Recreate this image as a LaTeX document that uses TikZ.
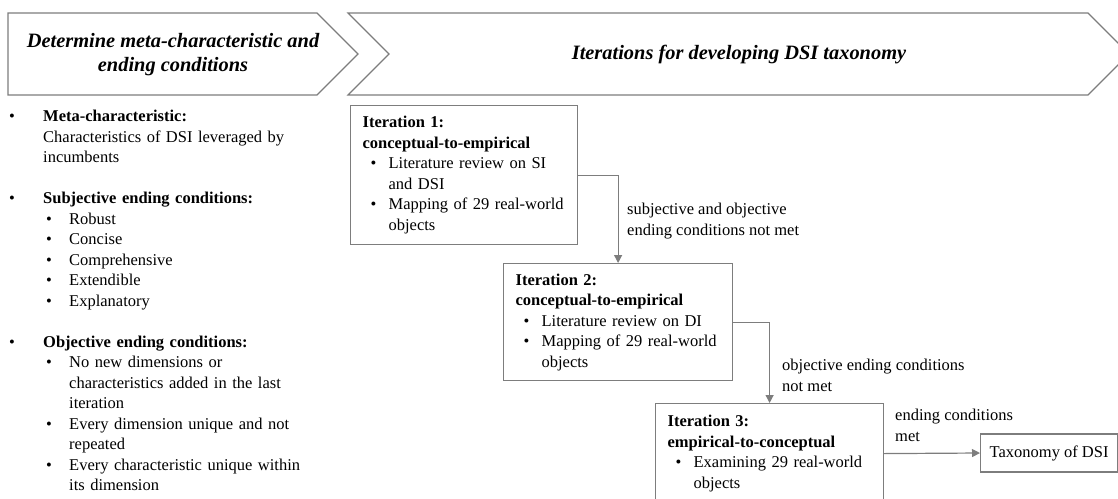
\documentclass[tikz,border=0pt]{standalone}
\usepackage{fontspec}
\setmainfont{Liberation Serif}
\usetikzlibrary{arrows.meta,positioning}
\definecolor{linegray}{RGB}{125,125,125}
\newcommand{\bodyfont}{\fontsize{16.5}{20.5}\selectfont}
\newcommand{\headfont}{\fontsize{20.4}{24}\selectfont\bfseries\itshape}
% bullet item: #1 bullet offset, #2 text offset, #3 text
\newcommand{\itm}[3]{\par\noindent\hangindent=#2\hangafter=1\makebox[#2][l]{\hspace*{#1}\textbullet}#3\par}
\tikzset{
  chevron/.style  = {draw=linegray, line width=1.2pt, fill=white},
  headtext/.style = {font=\headfont, align=center, inner sep=0pt},
  iterbox/.style  = {draw=linegray, line width=1.2pt, font=\bodyfont, anchor=north west,
                     inner xsep=12pt, inner ysep=0pt},
  note/.style     = {font=\bodyfont, align=left, inner sep=0pt, anchor=north west},
  flow/.style     = {draw=linegray, line width=1.2pt, -{Triangle[length=8pt,width=8pt]}}
}

\begin{document}
\begin{tikzpicture}[x=1pt,y=-1pt]
\useasboundingbox (0,0) rectangle (1118,498);
\clip (0,0) rectangle (1118,498);
% phase chevrons
\draw[chevron] (8,13) -- (317,13) -- (358,54) -- (317,95) -- (8,95) -- cycle;
\draw[chevron] (348,13) -- (1088,13) -- (1129,54) -- (1088,95) -- (348,95) -- (389,54) -- cycle;
\node[headtext] (h1) at (173,55) {Determine meta-characteristic and\\ending conditions};
\node[headtext] (h2) at (739,55) {Iterations for developing DSI taxonomy};

% meta-characteristic and ending conditions
\node[note, text width=330pt] (conds) at (0,101) {%
  \itm{9pt}{43pt}{\textbf{Meta-characteristic:}\newline Characteristics of DSI leveraged by\newline incumbents}
  \vspace{20.5pt}
  \itm{9pt}{43pt}{\textbf{Subjective ending conditions:}}
  \itm{46pt}{69pt}{Robust}
  \itm{46pt}{69pt}{Concise}
  \itm{46pt}{69pt}{Comprehensive}
  \itm{46pt}{69pt}{Extendible}
  \itm{46pt}{69pt}{Explanatory}
  \vspace{20.5pt}
  \itm{9pt}{43pt}{\textbf{Objective ending conditions:}}
  \itm{46pt}{69pt}{No new dimensions or\newline characteristics added in the last\newline iteration}
  \itm{46pt}{69pt}{Every dimension unique and not\newline repeated}
  \itm{46pt}{69pt}{Every characteristic unique within\newline its dimension}};

% iterations
\node[iterbox, text width=203pt, minimum height=139pt] (it1) at (350,105) {%
  \noindent\textbf{Iteration 1:}\newline\textbf{conceptual-to-empirical}
  \itm{8pt}{26pt}{Literature review on SI\newline and DSI}
  \itm{8pt}{26pt}{Mapping of 29 real-world\newline objects}};
\node[iterbox, text width=205pt, minimum height=117pt] (it2) at (503,263) {%
  \noindent\textbf{Iteration 2:}\newline\textbf{conceptual-to-empirical}
  \itm{8pt}{26pt}{Literature review on DI}
  \itm{8pt}{26pt}{Mapping of 29 real-world\newline objects}};
\node[iterbox, text width=204pt, minimum height=100pt] (it3) at (655,403) {%
  \noindent\textbf{Iteration 3:}\newline\textbf{empirical-to-conceptual}
  \itm{8pt}{26pt}{Examining 29 real-world\newline objects}};
\node[iterbox, inner xsep=0pt, minimum width=137pt, minimum height=38pt,
      anchor=west] (tax) at (980,453) {Taxonomy of DSI};

% transitions
\draw[flow] (it1.east) -| (it2.north);
\draw[flow] (it2.east) -| (it3.north);
\draw[flow] (it3.east) -- (tax.west);
\node[note] (l1) at (627,203) {subjective and objective\\ending conditions not met};
\node[note] (l2) at (782,359) {objective ending conditions\\not met};
\node[note] (l3) at (895,409) {ending conditions\\met};
\end{tikzpicture}
\end{document}
